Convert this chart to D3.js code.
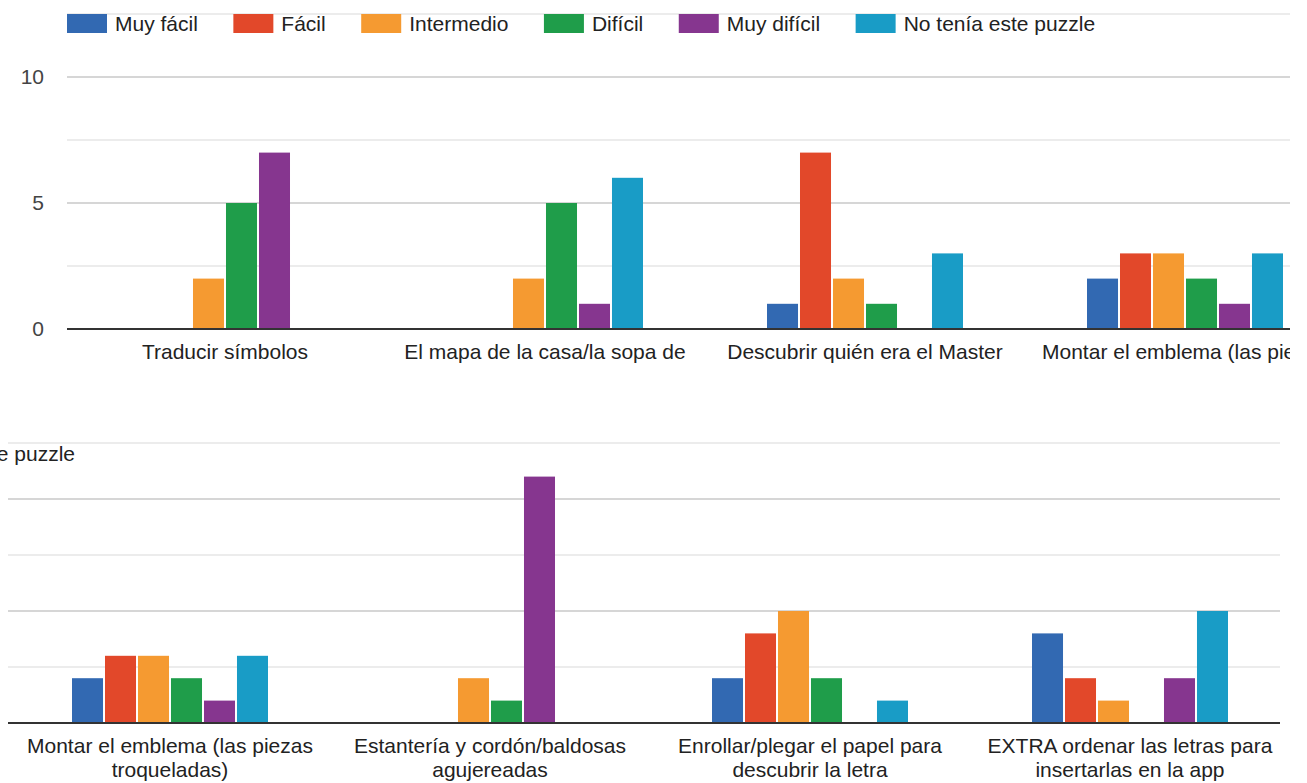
<!DOCTYPE html>
<html>
<head>
<meta charset="utf-8">
<script src="https://cdn.jsdelivr.net/npm/d3@7"></script>
<style>
  body { margin: 0; background: #fff; }
  svg { display: block; font-family: "Liberation Sans", Arial, sans-serif; }
</style>
</head>
<body>
<div id="container"></div>
<script>
/* DATA */
const series = ["Muy fácil", "Fácil", "Intermedio", "Difícil", "Muy difícil", "No tenía este puzzle"];
const colors = ["#3269b2", "#e2482a", "#f59a31", "#1f9d4a", "#86368f", "#199cc6"];

// top screenshot (labels cut to first line)
const topCats = ["Traducir símbolos", "El mapa de la casa/la sopa de", "Descubrir quién era el Master", "Montar el emblema (las piezas"];
const topValues = [
  [0, 0, 2, 5, 7, 0],
  [0, 0, 2, 5, 1, 6],
  [1, 7, 2, 1, 0, 3],
  [2, 3, 3, 2, 1, 3]
];

// bottom screenshot
const bottomCats = [
  ["Montar el emblema (las piezas", "troqueladas)"],
  ["Estantería y cordón/baldosas", "agujereadas"],
  ["Enrollar/plegar el papel para", "descubrir la letra"],
  ["EXTRA ordenar las letras para", "insertarlas en la app"]
];
const bottomValues = [
  [2, 3, 3, 2, 1, 3],
  [0, 0, 2, 1, 11, 0],
  [2, 4, 5, 2, 0, 1],
  [4, 2, 1, 0, 2, 5]
];

const gridTicks = [0, 2.5, 5, 7.5, 10, 12.5];
const yLabels = [0, 5, 10];

/* CONSTANTS */
const width = 1307, height = 783;
const textColor = "#222";

const svg = d3.select("#container")
  .append("svg")
  .attr("width", width)
  .attr("height", height);

const color = d3.scaleOrdinal().domain(series).range(colors);

//LEGEND - lays items out one after another, returns end x
function drawLegend(g, x0, yTop) {
  let x = x0;
  series.forEach((s, i) => {
    g.append("rect")
      .attr("x", x).attr("y", yTop)
      .attr("width", 40).attr("height", 19)
      .attr("fill", color(s));
    const t = g.append("text")
      .attr("x", x + 48).attr("y", yTop + 17)
      .attr("font-size", 21)
      .attr("fill", textColor)
      .text(s);
    x = x + 48 + t.node().getComputedTextLength();
    if (i < series.length - 1) x += 35.5;
  });
  return x;
}

// one chart panel
function drawPanel(opts) {
  const { cats, values, clip, x0, x1, y0, yTop, gridX0, gridX1, labelLines, showY } = opts;

  const id = "clip" + opts.name;
  svg.append("clipPath").attr("id", id)
    .append("rect")
    .attr("x", clip[0]).attr("y", clip[1])
    .attr("width", clip[2]).attr("height", clip[3]);

  const g = svg.append("g").attr("clip-path", `url(#${id})`);

  const xScale = d3.scaleBand()
    .domain(d3.range(cats.length))
    .range([x0, x1])
    .paddingInner(0.3875)
    .paddingOuter(0.19375);

  const xInner = d3.scaleBand()
    .domain(series)
    .range([0, xScale.bandwidth()])
    .paddingInner(0.06);

  const yScale = d3.scaleLinear()
    .domain([0, 12.5])
    .range([y0, yTop]);

  //GRIDLINES
  g.append("g")
    .selectAll("line")
    .data(gridTicks.filter(d => d > 0))
    .join("line")
    .attr("x1", gridX0).attr("x2", gridX1)
    .attr("y1", d => yScale(d)).attr("y2", d => yScale(d))
    .attr("stroke", d => (d % 5 === 0) ? "#c8c8c8" : "#e6e6e6")
    .attr("stroke-width", 1.5);

  //Y AXIS labels
  if (showY) {
    const yAxis = d3.axisLeft(yScale).tickValues(yLabels).tickSize(0).tickPadding(0);
    const ya = g.append("g")
      .attr("transform", `translate(44,0)`)
      .call(yAxis);
    ya.select(".domain").remove();
    ya.selectAll("text")
      .attr("font-size", 21)
      .attr("font-family", "Liberation Sans, Arial, sans-serif")
      .attr("fill", "#444");
  }

  //BARS
  g.append("g")
    .selectAll("g")
    .data(values)
    .join("g")
    .attr("transform", (d, i) => `translate(${xScale(i)},0)`)
    .selectAll("rect")
    .data(d => d.map((v, j) => ({ key: series[j], value: v })).filter(d => d.value > 0))
    .join("rect")
    .attr("x", d => xInner(d.key))
    .attr("width", xInner.bandwidth())
    .attr("y", d => yScale(d.value))
    .attr("height", d => yScale(0) - yScale(d.value))
    .attr("fill", d => color(d.key));

  //BASELINE
  g.append("line")
    .attr("x1", gridX0).attr("x2", gridX1)
    .attr("y1", y0).attr("y2", y0)
    .attr("stroke", "#333")
    .attr("stroke-width", 2);

  //CATEGORY LABELS
  const lab = g.append("g")
    .selectAll("text")
    .data(cats)
    .join("text")
    .attr("x", (d, i) => xScale(i) + xScale.bandwidth() / 2)
    .attr("y", y0 + 30)
    .attr("text-anchor", "middle")
    .attr("font-size", 21)
    .attr("fill", textColor);
  lab.each(function (d) {
    const lines = Array.isArray(d) ? d : [d];
    lines.slice(0, labelLines).forEach((l, k) => {
      d3.select(this).append("tspan")
        .attr("x", d3.select(this).attr("x"))
        .attr("dy", k === 0 ? 0 : 24)
        .text(l);
    });
  });

  return g;
}

// top panel
const gTop = drawPanel({
  name: "top", cats: topCats, values: topValues,
  clip: [0, 0, 1290, 400],
  x0: 65, x1: 1345, y0: 329, yTop: 14,
  gridX0: 67, gridX1: 1290, labelLines: 1, showY: true
});
drawLegend(gTop.append("g"), 67, 14);

// bottom panel
const gBot = drawPanel({
  name: "bot", cats: bottomCats, values: bottomValues,
  clip: [0, 420, 1307, 363],
  x0: 10, x1: 1290, y0: 723, yTop: 443,
  gridX0: 8, gridX1: 1280, labelLines: 2, showY: false
});
// bottom legend is off to the left, only the end of the last label shows
const legBot = gBot.append("g");
const endX = drawLegend(legBot, 0, 444);
legBot.attr("transform", `translate(${75 - endX},0)`);
</script>
</body>
</html>
